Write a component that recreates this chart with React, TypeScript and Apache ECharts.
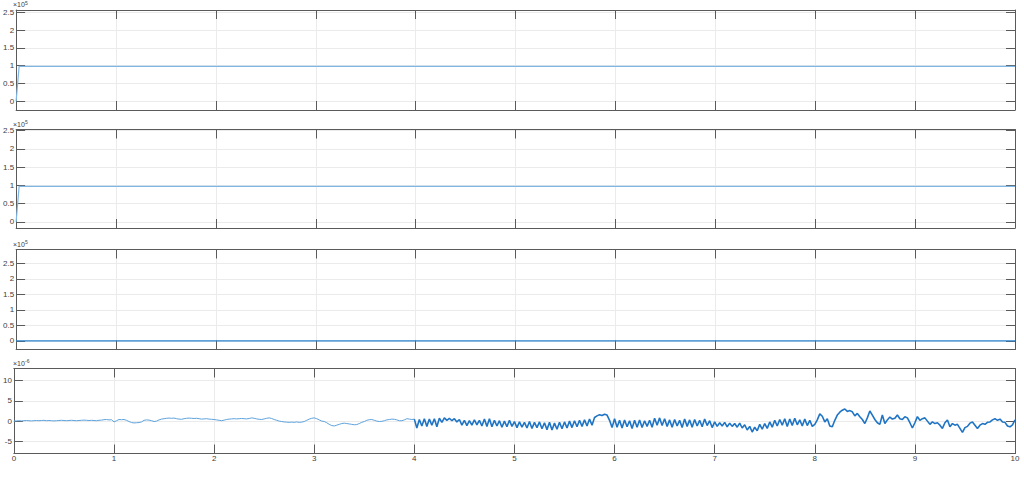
import React, { useEffect, useRef } from "react";
import * as echarts from "echarts";

// ---- data ----
const xTicks = [0, 1, 2, 3, 4, 5, 6, 7, 8, 9, 10];
const t1 = [0, 0.03, 10];
const sig1 = [0, 0.98, 0.98];
const t2 = [0, 0.03, 10];
const sig2 = [0, 0.97, 0.97];
const t3 = [0, 10];
const sig3 = [0, 0];
const dt4 = 0.025;
const sig4 = [
  0.0, 0.05, 0.1, 0.05, 0.1, 0.15, 0.1, 0.05, 0.1, 0.15,
  0.1, 0.15, 0.2, 0.1, 0.15, 0.1, 0.05, 0.1, 0.15, 0.2,
  0.15, 0.1, 0.15, 0.2, 0.15, 0.1, 0.15, 0.2, 0.25, 0.2,
  0.15, 0.2, 0.15, 0.1, 0.2, 0.25, 0.35, 0.4, 0.3, 0.35,
  -0.2, 0.1, 0.4, 0.35, 0.4, 0.2, -0.1, -0.35, -0.45, -0.4,
  -0.35, -0.2, 0.2, 0.3, 0.25, 0.1, -0.1, 0.0, 0.3, 0.5,
  0.6, 0.7, 0.75, 0.7, 0.75, 0.6, 0.5, 0.45, 0.6, 0.7,
  0.75, 0.7, 0.65, 0.7, 0.6, 0.5, 0.55, 0.6, 0.5, 0.45,
  0.4, 0.3, 0.2, 0.1, 0.25, 0.4, 0.5, 0.55, 0.6, 0.55,
  0.6, 0.65, 0.6, 0.55, 0.65, 0.8, 0.7, 0.55, 0.45, 0.4,
  0.55, 0.7, 0.8, 0.65, 0.4, 0.2, 0.0, -0.1, -0.2, -0.25,
  -0.3, -0.25, -0.3, -0.2, -0.3, -0.25, -0.1, 0.2, 0.5, 0.7,
  0.8, 0.6, 0.3, 0.0, -0.1, -0.4, -0.8, -1.1, -1.2, -1.0,
  -0.8, -0.6, -0.5, -0.6, -0.7, -0.8, -0.9, -0.85, -0.6, -0.3,
  -0.1, 0.2, 0.35, 0.4, 0.2, 0.0, -0.1, -0.05, 0.1, 0.3,
  0.4, 0.5, 0.45, 0.3, 0.1, 0.1, 0.3, 0.6, 0.5, 0.4,
  0.5, -1.7, 0.4, -1.2, 0.6, -1.3, 0.5, -1.0, 0.6, -1.4,
  0.7, -0.3, 0.8, 0.2, 0.7, 0.1, 0.6, -0.2, 0.4, -1.0,
  0.2, -1.1, 0.1, -1.0, 0.3, -0.9, 0.2, -1.2, 0.5, -1.3,
  0.6, -1.4, 0.2, -1.2, 0.1, -1.5, 0.0, -1.4, 0.2, -1.3,
  -0.1, -1.6, -0.2, -1.5, -0.3, -1.7, -0.1, -1.8, -0.3, -1.6,
  -0.2, -1.9, -0.4, -2.1, -0.3, -2.2, -0.5, -2.0, -0.3, -1.9,
  -0.2, -1.7, 0.0, -1.6, 0.1, -1.4, 0.2, -1.3, 0.3, -1.2,
  0.5, -1.0, 0.9, 1.3, 1.6, 1.4, 1.7, 1.5, 0.2, -1.6,
  0.6, -1.5, 0.2, -1.7, 0.3, -1.4, 0.1, -1.8, 0.2, -1.5,
  0.3, -1.6, 0.1, -1.3, 0.2, -1.5, 0.7, -1.0, 0.8, -1.1,
  0.6, -1.3, 0.3, -1.5, 0.4, -1.2, 0.2, -1.6, 0.5, -1.3,
  0.3, -1.5, 0.4, -1.2, 0.2, -1.4, 0.5, -1.1, 0.1, -1.6,
  -0.2, -1.3, -0.4, -1.2, -0.3, -1.4, -0.5, -1.3, -0.6, -1.5,
  -0.5, -1.7, -0.9, -2.2, -1.3, -2.7, -1.5, -2.4, -0.8, -2.0,
  -0.6, -1.8, -0.2, -1.5, 0.2, -1.2, 0.4, -1.0, 0.6, -1.3,
  0.5, -1.1, 0.7, -0.9, 0.3, -1.2, 0.5, -1.1, 0.2, -1.3,
  -0.8, 0.3, 1.8, 1.2, -0.2, 0.6, -1.2, -1.4, 0.2, 1.5,
  2.2, 2.7, 3.0, 2.4, 2.6, 2.3, 1.3, 1.9, 1.1, 0.4,
  -0.6, 0.8, 2.5, 1.5, 0.4, -0.4, -0.8, 1.5, -0.6, 0.3,
  1.0, 0.5, 0.7, 1.5, 0.6, 0.4, 1.1, 0.8, -0.4, -1.7,
  -0.4, 1.1, 0.2, 0.6, 0.8, 0.0, -0.8, -0.2, -0.6, -0.4,
  -1.0, -1.8, -0.4, 0.3, -1.4, -0.6, -1.0, -0.8, -1.8, -2.8,
  -1.6, -1.3, -0.5, -0.2, -1.0, -1.8, -1.0, -0.6, -0.8, -0.3,
  -0.2, 0.3, 0.6, 0.2, 0.5, -0.2, -0.3, -1.2, -1.4, -0.9,
  0.3,
];
const splitIndex4 = 160; // t = 4

// y ranges [min, max, label step] per subplot
const yMin = [-0.25, -0.17, -0.28, -8];
const yMax = [2.57, 2.53, 2.95, 13];
const yStep = [0.5, 0.5, 0.5, 5];
const exponents = ["5", "5", "5", "-6"];

const AX = "#5a5a5a";
const GRIDC = "#ebebeb";
const FONT = "Liberation Sans, Arial, sans-serif";

const gridPos = [
  { top: 10, height: 100 },
  { top: 129.5, height: 98.5 },
  { top: 249.5, height: 100 },
  { top: 368.5, height: 85 },
];

function isMult(v: number, s: number) {
  const r = v / s;
  return Math.abs(r - Math.round(r)) < 1e-6;
}

export default function App() {
  const ref = useRef<HTMLDivElement>(null);
  useEffect(() => {
    document.body.style.margin = "0";
    const chart = echarts.init(ref.current!, null, { renderer: "svg" });
    const grid = gridPos.map((g) => ({ left: 12, right: 9, top: g.top, height: g.height }));
    const xAxis: any[] = [];
    const yAxis: any[] = [];
    gridPos.forEach((_, gi) => {
      xAxis.push({
        type: "value",
        gridIndex: gi,
        position: "bottom",
        min: xTicks[0],
        max: xTicks[xTicks.length - 1],
        interval: 1,
        axisLine: { show: true, onZero: false, lineStyle: { color: AX, width: 1 } },
        axisTick: { show: true, inside: true, length: 9, lineStyle: { color: AX } },
        axisLabel: {
          show: gi === 3,
          fontSize: 8,
          color: "#404040",
          margin: 1,
          fontFamily: FONT,
        },
        splitLine: { show: true, lineStyle: { color: GRIDC, width: 1 } },
      });
      xAxis.push({
        type: "value",
        gridIndex: gi,
        position: "top",
        min: xTicks[0],
        max: xTicks[xTicks.length - 1],
        interval: 1,
        axisLine: { show: true, onZero: false, lineStyle: { color: AX, width: 1 } },
        axisTick: { show: true, inside: true, length: 9, lineStyle: { color: AX } },
        axisLabel: { show: false },
        splitLine: { show: false },
      });
      const step = yStep[gi];
      const base = {
        type: "value",
        gridIndex: gi,
        min: yMin[gi],
        max: yMax[gi],
        minInterval: step,
        maxInterval: step,
        axisLine: { show: true, onZero: false, lineStyle: { color: AX, width: 1 } },
        axisTick: { show: true, inside: true, length: 9, lineStyle: { color: AX } },
      };
      yAxis.push({
        ...base,
        position: "left",
        axisLabel: {
          show: true,
          fontSize: 8,
          color: "#404040",
          margin: 2,
          fontFamily: FONT,
          formatter: (v: number) => (isMult(v, step) ? String(Math.round(v * 100) / 100) : ""),
        },
        splitLine: { show: true, lineStyle: { color: GRIDC, width: 1 } },
      });
      yAxis.push({
        ...base,
        position: "right",
        axisLabel: { show: false },
        splitLine: { show: false },
      });
    });

    const d4 = sig4.map((v, i) => [i * dt4, v]);
    const series: any[] = [
      {
        type: "line", xAxisIndex: 0, yAxisIndex: 0, showSymbol: false,
        data: t1.map((t, i) => [t, sig1[i]]),
        lineStyle: { color: "#7fb6e4", width: 1.2 },
      },
      {
        type: "line", xAxisIndex: 2, yAxisIndex: 2, showSymbol: false,
        data: t2.map((t, i) => [t, sig2[i]]),
        lineStyle: { color: "#7fb6e4", width: 1.2 },
      },
      {
        type: "line", xAxisIndex: 4, yAxisIndex: 4, showSymbol: false,
        data: t3.map((t, i) => [t, sig3[i]]),
        lineStyle: { color: "#2a82cf", width: 1.3 },
      },
      {
        type: "line", xAxisIndex: 6, yAxisIndex: 6, showSymbol: false,
        data: d4.slice(0, splitIndex4 + 1),
        lineStyle: { color: "#5ea3dd", width: 1 },
      },
      {
        type: "line", xAxisIndex: 6, yAxisIndex: 6, showSymbol: false,
        data: d4.slice(splitIndex4),
        lineStyle: { color: "#1f74c4", width: 1.6 },
      },
    ];

    const graphic: any[] = [];
    gridPos.forEach((g, gi) => {
      graphic.push({
        type: "text",
        x: 13,
        y: g.top - 2,
        style: {
          text: "×10",
          font: `7px ${FONT}`,
          fill: "#404040",
          textVerticalAlign: "bottom",
        },
      });
      graphic.push({
        type: "text",
        x: 25,
        y: g.top - 5,
        style: {
          text: exponents[gi],
          font: `5px ${FONT}`,
          fill: "#404040",
          textVerticalAlign: "bottom",
        },
      });
    });

    chart.setOption({
      animation: false,
      backgroundColor: "#ffffff",
      grid,
      xAxis,
      yAxis,
      series,
      graphic,
    });
    return () => chart.dispose();
  }, []);
  return <div ref={ref} style={{ width: 1024, height: 477 }} />;
}
